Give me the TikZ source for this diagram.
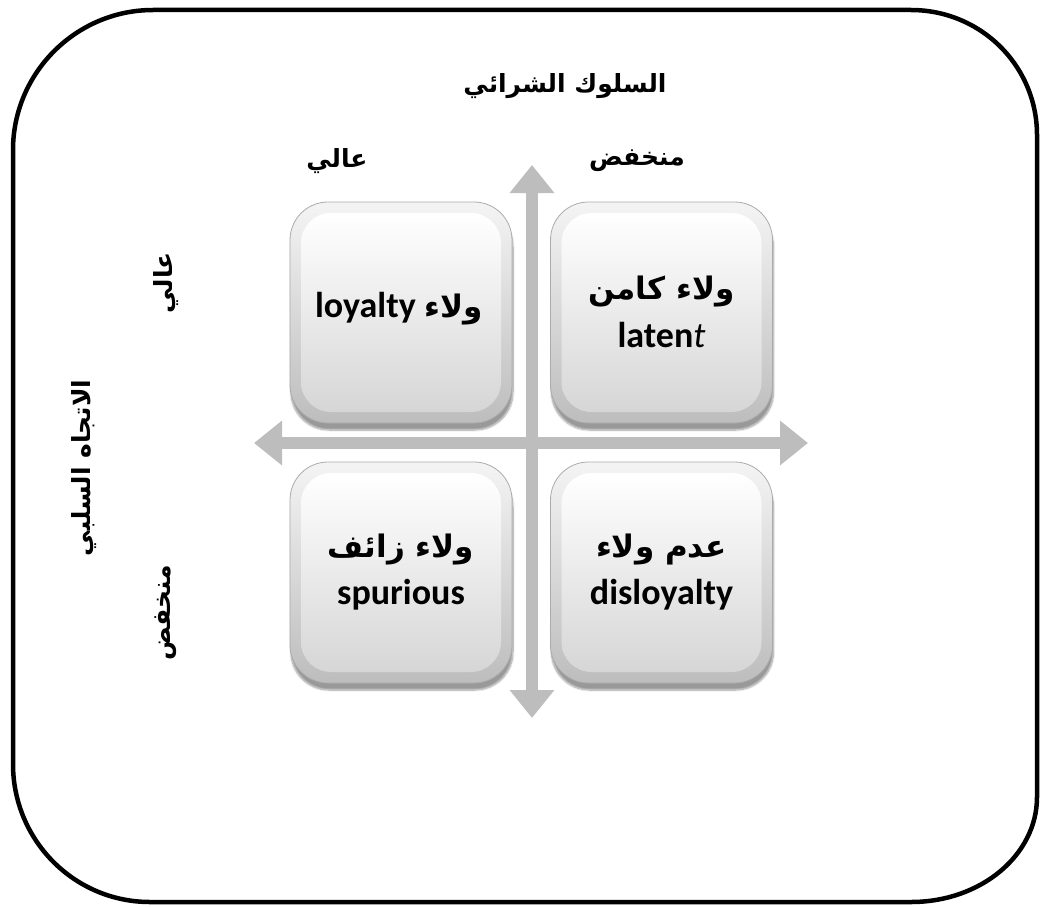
\documentclass[tikz,border=0pt]{standalone}
\usepackage{fontspec}
\usetikzlibrary{arrows.meta,shadows.blur}
\TeXXeTstate=1
\newfontfamily\arabicfont[Script=Arabic]{DejaVu Sans}
\newfontfamily\latinfont{Carlito}
\definecolor{axisgray}{HTML}{BDBDBD}
\definecolor{boxedge}{HTML}{ABABAB}
\definecolor{boxtop}{HTML}{F4F4F4}
\definecolor{boxbot}{HTML}{BDBDBD}
\definecolor{facebot}{HTML}{D6D6D6}
\tikzset{
  frameline/.style={line width=4.5pt, black},
  axis/.style={line width=12pt, draw=axisgray,
    {Triangle[width=43pt,length=28pt,fill=axisgray]}-{Triangle[width=43pt,length=28pt,fill=axisgray]}},
  quadbox/.style={minimum width=222pt, minimum height=221pt, rounded corners=38pt,
    draw=boxedge, line width=0.8pt, top color=boxtop, bottom color=boxbot,
    blur shadow={shadow xshift=1pt, shadow yshift=-7pt, shadow blur steps=10,
      shadow blur extra rounding=4pt, shadow opacity=40}},
  quadface/.style={minimum width=200pt, minimum height=199pt, rounded corners=30pt,
    top color=white, bottom color=facebot, inner sep=0pt},
  quadtext/.style={align=center, inner sep=0pt},
  artitle/.style={font=\fontsize{25}{29}\selectfont\arabicfont\bfseries},
  arlabel/.style={font=\fontsize{25}{29}\selectfont\arabicfont\bfseries},
}
\newcommand{\ar}[1]{{\fontsize{31}{35}\selectfont\arabicfont\bfseries\beginR #1\endR}}
\newcommand{\la}[1]{{\fontsize{36}{40}\selectfont\latinfont\bfseries #1}}
\begin{document}
\begin{tikzpicture}[x=1pt,y=-1pt]
\useasboundingbox (0,0) rectangle (1041,907);

% outer frame with unequal corner curves
\draw[frameline]
  (153,10) -- (911,10)
  .. controls (981,10) and (1037,66) .. (1037,135)
  -- (1037,797)
  .. controls (1037,855) and (981,902) .. (911,902)
  -- (150,902)
  .. controls (74,902) and (13,840) .. (13,764)
  -- (13,150)
  .. controls (13,73) and (76,10) .. (153,10) -- cycle;

% axes
\coordinate (vtop) at (532,165);
\coordinate (vbot) at (532,718);
\coordinate (hleft) at (254,443);
\coordinate (hright) at (808,443);
\draw[axis] (vbot) -- (vtop);
\draw[axis] (hleft) -- (hright);

% the four quadrants
\node[quadbox] (q1) at (401,312.5) {};
\node[quadbox] (q2) at (661.5,312.5) {};
\node[quadbox] (q3) at (401,572.5) {};
\node[quadbox] (q4) at (661.5,572.5) {};
\node[quadface] (f1) at (q1) {};
\node[quadface] (f2) at (q2) {};
\node[quadface] (f3) at (q3) {};
\node[quadface] (f4) at (q4) {};

\node[quadtext] (t1) at (399,309) {\la{loyalty}\hspace{9pt}\ar{ولاء}};
\node[quadtext] (t2) at (661.5,312) {\ar{ولاء كامن}\\[14pt]\la{laten{\mdseries\itshape t}}};
\node[quadtext] (t3) at (401,572) {\ar{ولاء زائف}\\[14pt]\la{spurious}};
\node[quadtext] (t4) at (661.5,572) {\ar{عدم ولاء}\\[14pt]\la{disloyalty}};

% axis titles and levels
\node[artitle] (buy) at (565,86) {\beginR السلوك الشرائي\endR};
\node[arlabel] (bhigh) at (337,161) {\beginR عالي\endR};
\node[arlabel] (blow) at (637,161) {\beginR منخفض\endR};
\node[artitle, rotate=90] (att) at (84,468) {\beginR الاتجاه السلبي\endR};
\node[arlabel, rotate=90] (ahigh) at (166,283) {\beginR عالي\endR};
\node[arlabel, rotate=90] (alow) at (166,613) {\beginR منخفض\endR};
\end{tikzpicture}
\end{document}
